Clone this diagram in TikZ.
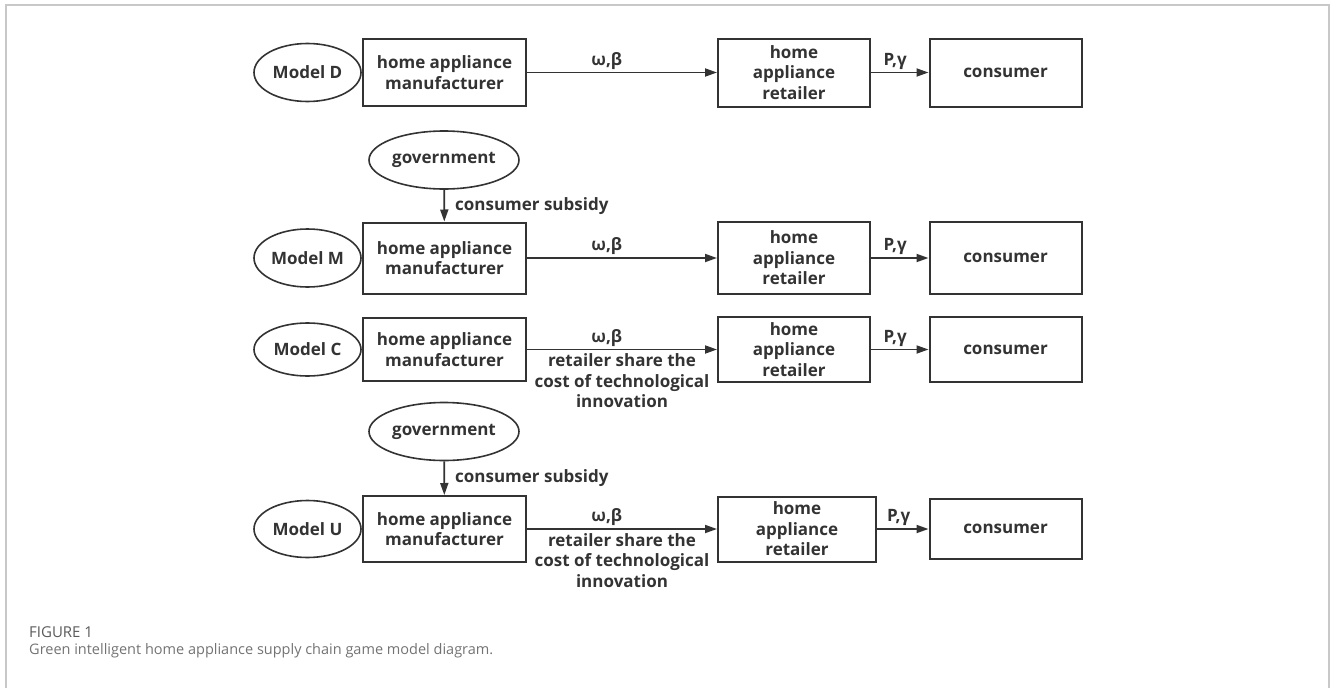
\documentclass[tikz,border=0pt]{standalone}
\usepackage{fontspec}
\setmainfont{Open Sans}
\usepackage{tikz}
\usetikzlibrary{arrows.meta,shapes.geometric}

\definecolor{ink}{HTML}{333333}
\definecolor{framegray}{HTML}{C8C8C8}
\definecolor{capgray}{HTML}{5A5A5A}

\begin{document}
\begin{tikzpicture}[x=1pt,y=-1pt,auto]
	\tikzstyle{txt}=[text=ink,font=\fontsize{17}{20.5}\selectfont\bfseries]
	\tikzstyle{box}=[rectangle,draw=ink,line width=2pt,txt,align=center,inner sep=2pt,minimum width=152pt,minimum height=68pt]
	\tikzstyle{manu}=[box,minimum width=163pt,minimum height=67pt]
	\tikzstyle{model}=[ellipse,draw=ink,line width=1.6pt,txt,inner sep=0pt,minimum width=107pt,minimum height=58pt]
	\tikzstyle{gov}=[model,minimum width=150pt,minimum height=58pt]
	\tikzstyle{flow}=[ink,line width=1.8pt,-{Triangle[length=12pt,width=8pt]}]
	\tikzstyle{upper}=[above,txt,inner sep=2.5pt,pos=0.42]
	\tikzstyle{lower}=[below,txt,align=center,inner sep=3.5pt,midway]
	\tikzstyle{side}=[right,txt,inner xsep=10pt,midway]
	\useasboundingbox (0,0) rectangle (1330,688);
	\draw [framegray,line width=1.2pt] (6,688) -- (6,5) -- (1329,5) -- (1329,688);
	\node (modelD) at (307.5,72.5) [model] {Model D};
	\node (manuD)  at (444.5,72.5) [manu] {home appliance\\manufacturer};
	\node (retD)   at (794,72.5)   [box]  {home\\appliance\\retailer};
	\node (consD)  at (1005.5,72.5) [box] {consumer};
	\node (govM)   at (444,160)    [gov]  {government};
	\node (modelM) at (307.5,258)  [model] {Model M};
	\node (manuM)  at (444.5,258)  [manu,minimum height=71pt] {home appliance\\manufacturer};
	\node (retM)   at (794,258)    [box,minimum height=72pt] {home\\appliance\\retailer};
	\node (consM)  at (1005.5,258) [box,minimum height=72pt] {consumer};
	\node (modelC) at (307.5,349.5) [model,minimum height=53pt] {Model C};
	\node (manuC)  at (444.5,349.5) [manu,minimum height=63pt] {home appliance\\manufacturer};
	\node (retC)   at (794,349.5)   [box,minimum height=65pt] {home\\appliance\\retailer};
	\node (consC)  at (1005.5,349.5) [box,minimum height=65pt] {consumer};
	\node (govU)   at (444,431.5)  [gov]  {government};
	\node (modelU) at (307.5,529)  [model,minimum height=57pt] {Model U};
	\node (manuU)  at (444.5,529)  [manu,minimum height=66pt] {home appliance\\manufacturer};
	\node (retU)   at (797,529)    [box,minimum width=158pt,minimum height=65pt] {home\\appliance\\retailer};
	\node (consU)  at (1005.5,529) [box,minimum height=60pt] {consumer};
	\draw [flow] (manuD) -- (retD) node [upper] {ω,β};
	\draw [flow] (retD)  -- (consD) node [upper] {P,γ};
	\draw [flow] (govM)  -- (manuM) node [side] {consumer subsidy};
	\draw [flow] (manuM) -- (retM) node [upper] {ω,β};
	\draw [flow] (retM)  -- (consM) node [upper] {P,γ};
	\draw [flow] (manuC) -- (retC) node [upper] {ω,β} node [lower] {retailer share the\\cost of technological\\innovation};
	\draw [flow] (retC)  -- (consC) node [upper] {P,γ};
	\draw [flow] (govU)  -- (manuU) node [side] {consumer subsidy};
	\draw [flow] (manuU) -- (retU) node [upper] {ω,β} node [lower] {retailer share the\\cost of technological\\innovation};
	\draw [flow] (retU)  -- (consU) node [upper] {P,γ};
	\node (figno)   at (29,637) [anchor=base west,inner sep=0pt,text=capgray,font=\fontsize{15}{18}\selectfont] {FIGURE 1};
	\node (caption) at (29,654) [anchor=base west,inner sep=0pt,text=capgray!85,font=\fontsize{14.5}{18}\selectfont] {Green intelligent home appliance supply chain game model diagram.};
\end{tikzpicture}
\end{document}
